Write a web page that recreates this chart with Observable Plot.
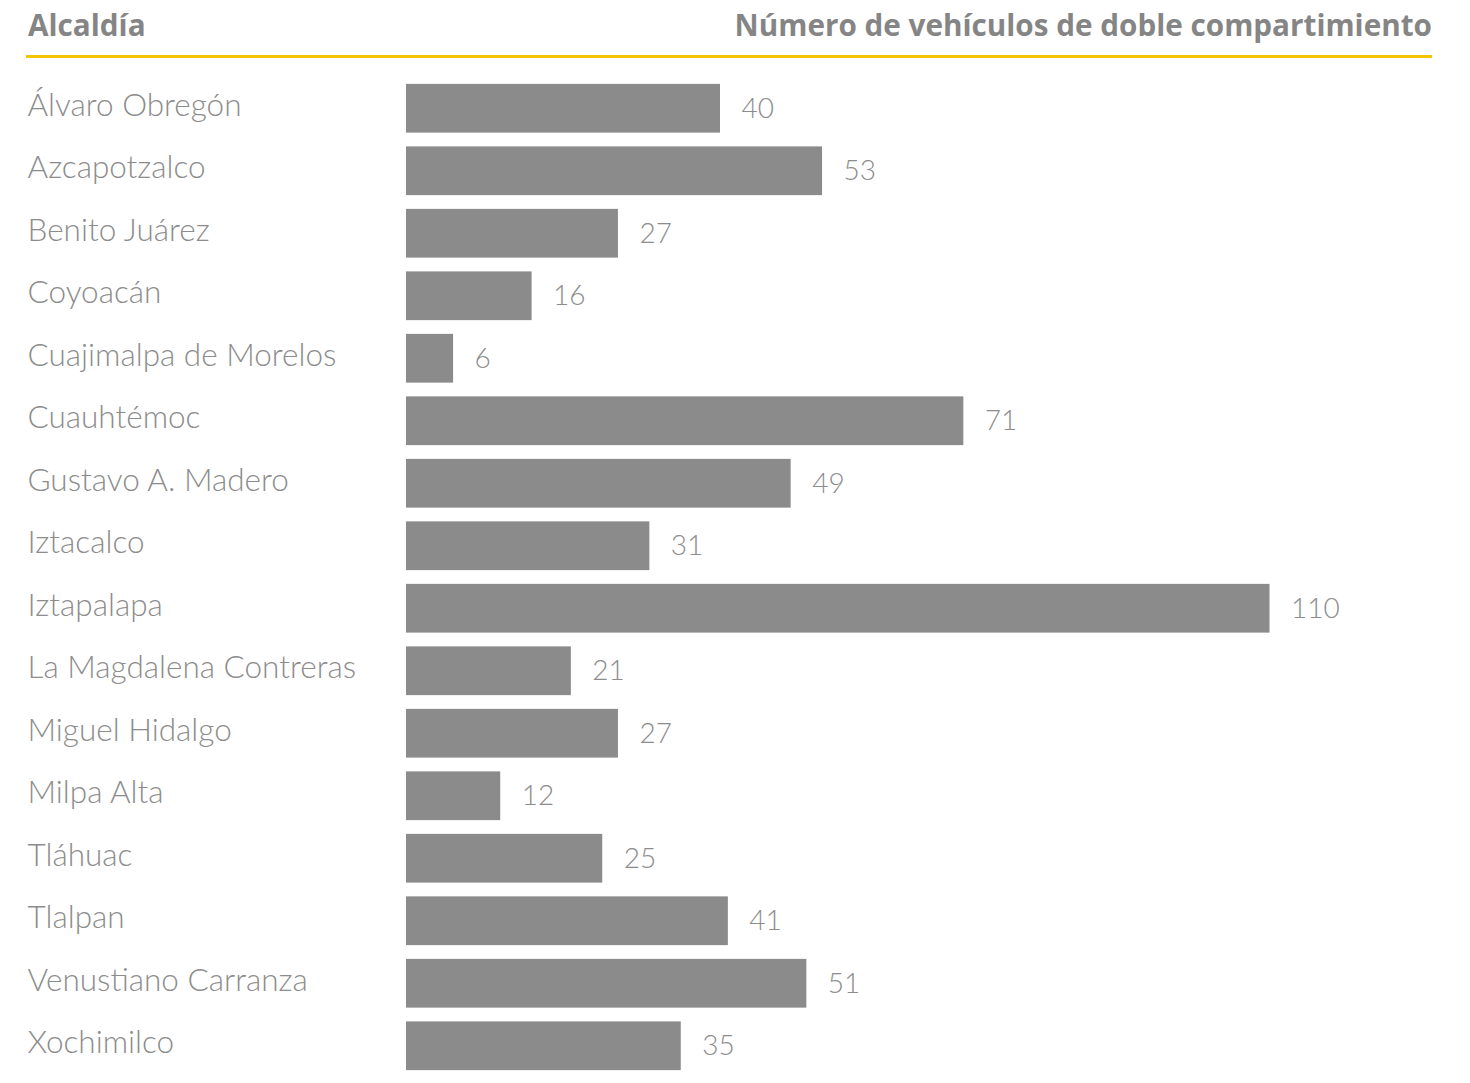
<!DOCTYPE html>
<html>
<head>
<meta charset="utf-8">
<script src="https://cdn.jsdelivr.net/npm/d3@7"></script>
<script src="https://cdn.jsdelivr.net/npm/@observablehq/plot@0.6"></script>
<style>
  html, body { margin: 0; padding: 0; background: #fff; }
  #wrap { width: 1470px; }
  #head {
    position: relative; margin-left: 26px; width: 1406px; height: 55px;
    border-bottom: 3px solid #f5c400; box-sizing: content-box;
    font-family: "Source Sans Pro", "Open Sans", sans-serif; font-weight: 700; font-size: 29.7px; color: #858585;
  }
  #head .l { position: absolute; left: 2px; top: 4px; }
  #head .r { position: absolute; right: 0; top: 4px; }
  svg { font-family: Lato, sans-serif; display: block; }
</style>
</head>
<body>
<div id="wrap">
  <div id="head"><span class="l">Alcaldía</span><span class="r">Número de vehículos de doble compartimiento</span></div>
  <div id="chart"></div>
</div>
<script>
const alcaldias = ["Álvaro Obregón","Azcapotzalco","Benito Juárez","Coyoacán","Cuajimalpa de Morelos","Cuauhtémoc","Gustavo A. Madero","Iztacalco","Iztapalapa","La Magdalena Contreras","Miguel Hidalgo","Milpa Alta","Tláhuac","Tlalpan","Venustiano Carranza","Xochimilco"];
const vehiculos = [40,53,27,16,6,71,49,31,110,21,27,12,25,41,51,35];

const data = alcaldias.map((a, i) => ({alcaldia: a, valor: vehiculos[i]}));

const chart = Plot.plot({
  width: 1470,
  height: 1025,
  marginLeft: 406,
  marginRight: 0,
  marginTop: 19,
  marginBottom: 6,
  style: {fontFamily: "Lato, sans-serif", fontSize: "28px", fontWeight: 300, color: "#888"},
  x: {domain: [0, 110], range: [406, 406 + 110 * 7.85], axis: null},
  y: {domain: alcaldias, paddingInner: 0.22, paddingOuter: 0.11, round: false, label: null},
  marks: [
    Plot.barX(data, {x: "valor", y: "alcaldia", fill: "#8a8b8a"}),
    Plot.text(data, {x: "valor", y: "alcaldia", text: d => String(d.valor), textAnchor: "start", dx: 21, dy: 0, fill: "#8c8c8c", fontSize: 28, fontWeight: 300}),
    Plot.axisY({tickSize: 0, textAnchor: "start", dx: -370, dy: -3, fontSize: 31.5, fontWeight: 300, fill: "#8c8c8c", label: null})
  ]
});
document.getElementById("chart").appendChild(chart);
</script>
</body>
</html>
